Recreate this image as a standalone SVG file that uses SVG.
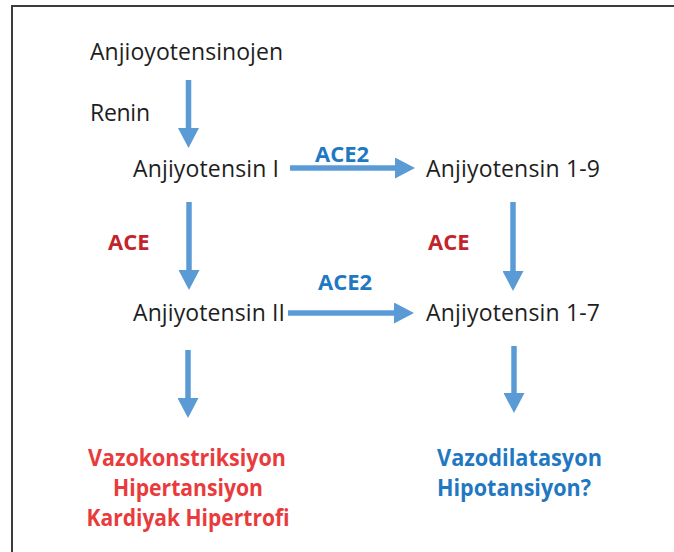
<svg xmlns="http://www.w3.org/2000/svg" width="674" height="552" viewBox="0 0 674 552">
  <defs>
    <marker id="head" markerUnits="userSpaceOnUse" viewBox="0 0 20 21" markerWidth="20" markerHeight="21" refX="2" refY="10.5" orient="auto">
      <path d="M0,0 L20,10.5 L0,21 Z" fill="#5b9bd5"/>
    </marker>
    <style>
      .node { font-family: "Open Sans", "Liberation Sans", sans-serif; font-size: 23px; fill: #1e1e1e; }
      .lbl { font-family: "Open Sans", "Liberation Sans", sans-serif; font-size: 22px; font-weight: bold; }
      .ace { fill: #c3242b; }
      .ace2 { fill: #1f78c1; }
      .res { font-family: "Open Sans", "Liberation Sans", sans-serif; font-size: 22.5px; font-weight: bold; }
      .red { fill: #e93a3c; }
      .blue { fill: #1f78c1; }
      .arrow { stroke: #5b9bd5; stroke-width: 5.5; fill: none; marker-end: url(#head); }
    </style>
  </defs>
  <rect width="674" height="552" fill="#ffffff"/>
  <path d="M12,552 L12,6 L674,6" fill="none" stroke="#3c3c3c" stroke-width="2"/>

  <g id="connectors">
    <line class="arrow" x1="188.5" y1="80" x2="188.5" y2="130"/>
    <line class="arrow" x1="290" y1="168" x2="397" y2="168"/>
    <line class="arrow" x1="189" y1="202" x2="189" y2="272"/>
    <line class="arrow" x1="513" y1="202" x2="513" y2="273"/>
    <line class="arrow" x1="288" y1="313" x2="396" y2="313"/>
    <line class="arrow" x1="188" y1="350" x2="188" y2="400"/>
    <line class="arrow" x1="514" y1="346" x2="514" y2="395"/>
    <text class="lbl ace2" x="315" y="162">ACE2</text>
    <text class="lbl ace2" x="318" y="290">ACE2</text>
    <text class="lbl ace" x="108" y="250">ACE</text>
    <text class="lbl ace" x="428" y="250">ACE</text>
  </g>

  <g id="anjiyotensinojen">
    <text class="node" x="90" y="60" textLength="193">Anjioyotensinojen</text>
  </g>
  <g id="renin">
    <text class="node" x="90" y="121" textLength="60">Renin</text>
  </g>
  <g id="anjiyotensin-1">
    <text class="node" x="133" y="177" textLength="146">Anjiyotensin I</text>
  </g>
  <g id="anjiyotensin-1-9">
    <text class="node" x="426" y="177" textLength="174">Anjiyotensin 1-9</text>
  </g>
  <g id="anjiyotensin-2">
    <text class="node" x="133" y="321" textLength="152">Anjiyotensin II</text>
  </g>
  <g id="anjiyotensin-1-7">
    <text class="node" x="426" y="321" textLength="174">Anjiyotensin 1-7</text>
  </g>
  <g id="effects-ace">
    <text class="res red" x="187" y="466" text-anchor="middle" textLength="198" lengthAdjust="spacingAndGlyphs">Vazokonstriksiyon</text>
    <text class="res red" x="188" y="496" text-anchor="middle" textLength="150" lengthAdjust="spacingAndGlyphs">Hipertansiyon</text>
    <text class="res red" x="188" y="526" text-anchor="middle" textLength="203" lengthAdjust="spacingAndGlyphs">Kardiyak Hipertrofi</text>
  </g>
  <g id="effects-ace2">
    <text class="res blue" x="437" y="466" textLength="165" lengthAdjust="spacingAndGlyphs">Vazodilatasyon</text>
    <text class="res blue" x="437" y="496" textLength="154" lengthAdjust="spacingAndGlyphs">Hipotansiyon?</text>
  </g>
</svg>
